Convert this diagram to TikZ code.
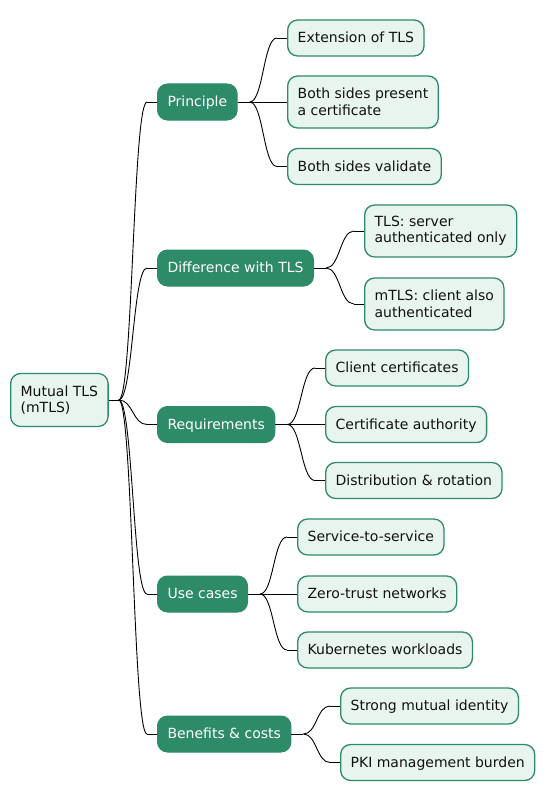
\documentclass[tikz,border=0pt]{standalone}
\usepackage{fontspec}
\setmainfont{DejaVu Sans}
\usetikzlibrary{calc}
\definecolor{dark}{HTML}{2E8B67}
\definecolor{lite}{HTML}{E8F5EE}
\definecolor{ink}{HTML}{111111}
\tikzset{
  base/.style={anchor=west, rounded corners=10bp, inner xsep=10bp, inner ysep=0bp, align=left,
    font=\fontsize{14bp}{16.5bp}\selectfont},
  oneline/.style={text height=11.5bp, text depth=2bp},
  topic/.style={base, oneline, fill=dark, draw=dark, line width=1bp, text=white, minimum height=36bp},
  leaf/.style={base, oneline, fill=lite, draw=dark, line width=1.3bp, text=ink, minimum height=36bp},
  leaftwo/.style={base, fill=lite, draw=dark, line width=1.3bp, text=ink, minimum height=52bp},
  conn/.style={draw=black, line width=0.9bp},
}
\newcommand\mmedge[3]{%
  \path (#1.east) ++(#3,0) coordinate (mmP);
  \path (#2.west) ++(-10,0) coordinate (mmQ);
  \draw[conn] (#1.east) -- (mmP);
  \draw[conn] (mmQ) -- (#2.west);
  \draw[conn] let \p1=(mmP), \p2=(mmQ) in (mmP) .. controls ({0.5*(\x1+\x2)},\y1) and ({0.5*(\x1+\x2)},\y2) .. (mmQ);
}
\begin{document}
\begin{tikzpicture}[x=1bp,y=-1bp]
\useasboundingbox (0,0) rectangle (546,801);
% root
\node[leaftwo, minimum height=53bp] (root) at (10,400) {Mutual TLS\\(mTLS)};
% level 1
\node[topic] (pri) at (157,102) {Principle};
\node[topic] (dif) at (157,268) {Difference with TLS};
\node[topic] (req) at (157,424.5) {Requirements};
\node[topic] (use) at (157,594) {Use cases};
\node[topic] (ben) at (157,734) {Benefits \& costs};
% level 2
\node[leaf] (ext) at (287,38) {Extension of TLS};
\node[leaftwo] (both) at (287,102) {Both sides present\\a certificate};
\node[leaf] (val) at (287,166.5) {Both sides validate};
\node[leaftwo] (tls) at (364,231) {TLS: server\\authenticated only};
\node[leaftwo] (mtls) at (364,304) {mTLS: client also\\authenticated};
\node[leaf] (cli) at (325,368) {Client certificates};
\node[leaf] (ca) at (325,424.5) {Certificate authority};
\node[leaf] (dist) at (325,480.5) {Distribution \& rotation};
\node[leaf] (svc) at (297,537) {Service-to-service};
\node[leaf] (zero) at (297,594) {Zero-trust networks};
\node[leaf] (kube) at (297,650) {Kubernetes workloads};
\node[leaf] (strong) at (340,706) {Strong mutual identity};
\node[leaf] (pki) at (340,762.5) {PKI management burden};
% connectors
\mmedge{root}{pri}{10}
\mmedge{root}{dif}{10}
\mmedge{root}{req}{10}
\mmedge{root}{use}{10}
\mmedge{root}{ben}{10}
\mmedge{pri}{ext}{12}
\mmedge{pri}{both}{12}
\mmedge{pri}{val}{12}
\mmedge{dif}{tls}{12}
\mmedge{dif}{mtls}{12}
\mmedge{req}{cli}{12}
\mmedge{req}{ca}{12}
\mmedge{req}{dist}{12}
\mmedge{use}{svc}{12}
\mmedge{use}{zero}{12}
\mmedge{use}{kube}{12}
\mmedge{ben}{strong}{12}
\mmedge{ben}{pki}{12}
\end{tikzpicture}
\end{document}
